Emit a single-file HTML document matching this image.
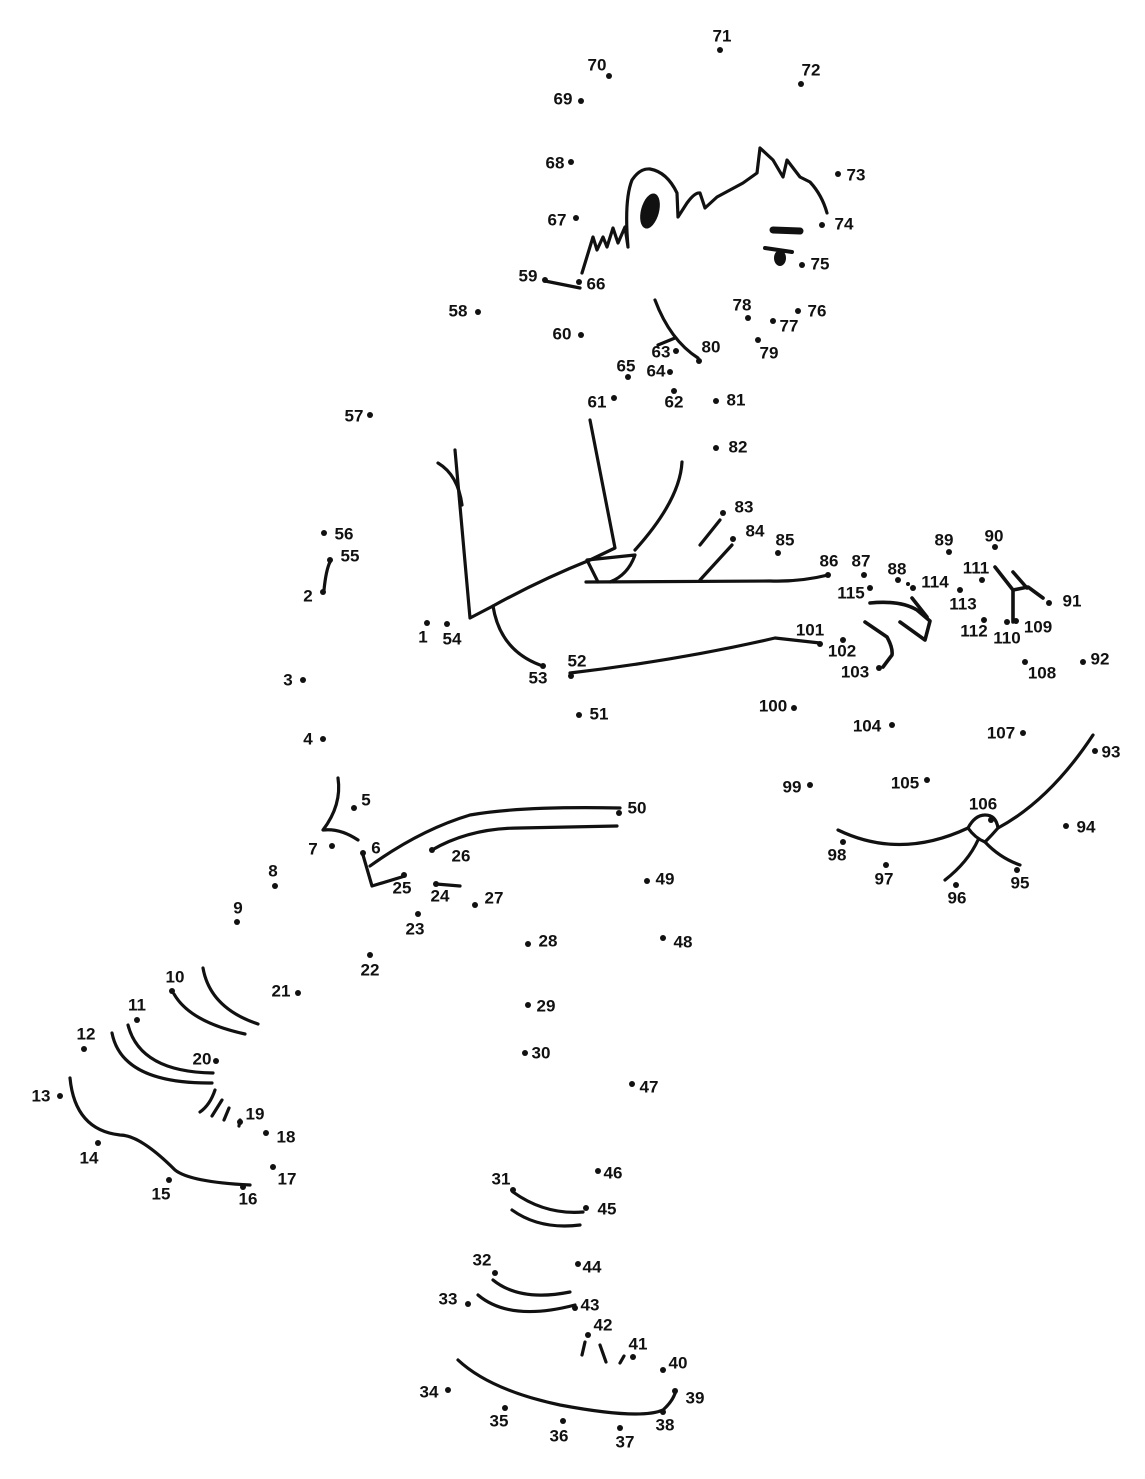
<!DOCTYPE html>
<html><head><meta charset="utf-8"><style>
html,body{margin:0;padding:0;background:#fff;}
svg{display:block;}
text{font-family:"Liberation Sans",sans-serif;font-weight:bold;font-size:17px;fill:#111;}
.s{fill:none;stroke:#111;stroke-width:3.2;stroke-linecap:round;stroke-linejoin:round;}
</style></head><body>
<svg width="1145" height="1479" viewBox="0 0 1145 1479">
<g class="s">
<path d="M324,590 Q326,570 330,562"/>
<path d="M338,778 Q342,805 323,830 Q340,828 358,840"/>
<path d="M363,855 L372,886 L405,876"/>
<path d="M370,866 Q420,830 470,815 Q520,806 620,808"/>
<path d="M432,850 Q470,828 520,828 L617,826"/>
<path d="M436,884 L460,886"/>
<path d="M203,968 Q210,1008 258,1024"/>
<path d="M174,994 Q190,1022 245,1034"/>
<path d="M128,1025 Q140,1072 213,1073"/>
<path d="M112,1033 Q122,1084 212,1083"/>
<path d="M215,1090 Q210,1105 200,1112"/>
<path d="M222,1100 L212,1116"/>
<path d="M229,1108 L224,1120"/>
<path d="M240,1120 L239,1126"/>
<path d="M70,1078 Q75,1130 120,1135 Q140,1135 175,1170 Q190,1182 250,1185"/>
<path d="M513,1192 Q545,1215 583,1212"/>
<path d="M512,1210 Q540,1230 580,1225"/>
<path d="M493,1280 Q520,1302 570,1292"/>
<path d="M478,1295 Q510,1322 575,1305"/>
<path d="M585,1342 L582,1355"/>
<path d="M600,1345 L606,1362"/>
<path d="M624,1356 L620,1363"/>
<path d="M458,1360 Q490,1390 560,1405 Q640,1420 663,1410 Q674,1400 676,1390"/>
<path d="M582,273 L593,237 L597,250 L603,237 L607,247 L613,228 L618,243 L625,227 L628,247 Q624,200 632,180 Q640,168 650,169 Q667,172 677,193 L678,217 L687,203 Q695,192 700,193 L705,208 L717,197 L743,183 L757,173 L760,148 L773,160 L783,177 L787,160 L800,177 L810,182 Q822,195 827,213"/>
<path d="M545,281 L580,288"/>
<path d="M773,230 L800,231" style="stroke-width:7"/>
<path d="M765,248 L792,252" style="stroke-width:4"/>
<path d="M655,300 Q670,340 698,358"/>
<path d="M658,345 L675,338"/>
<path d="M455,450 L470,618 L493,606 Q540,580 590,560 L615,548 L590,420"/>
<path d="M438,463 Q458,475 462,505"/>
<path d="M493,606 Q500,650 540,665"/>
<path d="M570,673 Q680,660 775,638 L820,643"/>
<path d="M586,582 L770,581 Q800,582 828,575"/>
<path d="M598,582 L587,560 L635,555 Q628,575 610,582"/>
<path d="M635,550 Q680,500 682,462"/>
<path d="M700,580 L732,545"/>
<path d="M700,545 L720,520"/>
<path d="M870,603 Q900,600 917,610 L930,621 L925,640 L900,622" style="stroke-width:3.6"/>
<path d="M865,622 L887,637 Q893,648 892,655 L883,667" style="stroke-width:3.6"/>
<path d="M912,598 L927,617" style="stroke-width:3.6"/>
<path d="M995,567 L1013,590 L1013,622" style="stroke-width:3.6"/>
<path d="M1013,590 L1028,587 L1043,598" style="stroke-width:3.6"/>
<path d="M1013,572 L1027,588" style="stroke-width:3.6"/>
<path d="M838,830 Q900,860 968,828 Q975,815 985,815 Q996,815 998,828 Q1050,800 1093,735"/>
<path d="M968,828 Q975,838 985,842 Q992,835 998,828"/>
<path d="M978,840 Q968,862 945,880"/>
<path d="M985,842 Q1000,858 1020,865"/>
</g>
<ellipse cx="650" cy="211" rx="9" ry="18" transform="rotate(15 650 211)" fill="#111"/>
<ellipse cx="780" cy="258" rx="6" ry="8" fill="#111"/>
<g fill="#111">
<circle cx="427" cy="623" r="3"/><circle cx="323" cy="592" r="3"/><circle cx="303" cy="680" r="3"/><circle cx="323" cy="739" r="3"/><circle cx="354" cy="808" r="3"/><circle cx="363" cy="853" r="3"/><circle cx="332" cy="846" r="3"/><circle cx="275" cy="886" r="3"/><circle cx="237" cy="922" r="3"/><circle cx="172" cy="991" r="3"/><circle cx="137" cy="1020" r="3"/><circle cx="84" cy="1049" r="3"/><circle cx="60" cy="1096" r="3"/><circle cx="98" cy="1143" r="3"/><circle cx="169" cy="1180" r="3"/><circle cx="243" cy="1187" r="3"/><circle cx="273" cy="1167" r="3"/><circle cx="266" cy="1133" r="3"/><circle cx="240" cy="1122" r="3"/><circle cx="216" cy="1061" r="3"/><circle cx="298" cy="993" r="3"/><circle cx="370" cy="955" r="3"/><circle cx="418" cy="914" r="3"/><circle cx="436" cy="884" r="3"/><circle cx="404" cy="875" r="3"/><circle cx="432" cy="850" r="3"/><circle cx="475" cy="905" r="3"/><circle cx="528" cy="944" r="3"/><circle cx="528" cy="1005" r="3"/><circle cx="525" cy="1053" r="3"/><circle cx="513" cy="1190" r="3"/><circle cx="495" cy="1273" r="3"/><circle cx="468" cy="1304" r="3"/><circle cx="448" cy="1390" r="3"/><circle cx="505" cy="1408" r="3"/><circle cx="563" cy="1421" r="3"/><circle cx="620" cy="1428" r="3"/><circle cx="663" cy="1412" r="3"/><circle cx="675" cy="1391" r="3"/><circle cx="663" cy="1370" r="3"/><circle cx="633" cy="1357" r="3"/><circle cx="588" cy="1335" r="3"/><circle cx="575" cy="1308" r="3"/><circle cx="578" cy="1264" r="3"/><circle cx="586" cy="1208" r="3"/><circle cx="598" cy="1171" r="3"/><circle cx="632" cy="1084" r="3"/><circle cx="663" cy="938" r="3"/><circle cx="647" cy="881" r="3"/><circle cx="619" cy="813" r="3"/><circle cx="579" cy="715" r="3"/><circle cx="571" cy="676" r="3"/><circle cx="543" cy="666" r="3"/><circle cx="447" cy="624" r="3"/><circle cx="330" cy="560" r="3"/><circle cx="324" cy="533" r="3"/><circle cx="370" cy="415" r="3"/><circle cx="478" cy="312" r="3"/><circle cx="545" cy="280" r="3"/><circle cx="581" cy="335" r="3"/><circle cx="614" cy="398" r="3"/><circle cx="674" cy="391" r="3"/><circle cx="676" cy="351" r="3"/><circle cx="670" cy="372" r="3"/><circle cx="628" cy="377" r="3"/><circle cx="579" cy="282" r="3"/><circle cx="576" cy="218" r="3"/><circle cx="571" cy="162" r="3"/><circle cx="581" cy="101" r="3"/><circle cx="609" cy="76" r="3"/><circle cx="720" cy="50" r="3"/><circle cx="801" cy="84" r="3"/><circle cx="838" cy="174" r="3"/><circle cx="822" cy="225" r="3"/><circle cx="802" cy="265" r="3"/><circle cx="798" cy="311" r="3"/><circle cx="773" cy="321" r="3"/><circle cx="748" cy="318" r="3"/><circle cx="758" cy="340" r="3"/><circle cx="699" cy="361" r="3"/><circle cx="716" cy="401" r="3"/><circle cx="716" cy="448" r="3"/><circle cx="723" cy="513" r="3"/><circle cx="733" cy="539" r="3"/><circle cx="778" cy="553" r="3"/><circle cx="828" cy="575" r="3"/><circle cx="864" cy="575" r="3"/><circle cx="898" cy="580" r="3"/><circle cx="949" cy="552" r="3"/><circle cx="995" cy="547" r="3"/><circle cx="1049" cy="603" r="3"/><circle cx="1083" cy="662" r="3"/><circle cx="1095" cy="751" r="3"/><circle cx="1066" cy="826" r="3"/><circle cx="1017" cy="870" r="3"/><circle cx="956" cy="885" r="3"/><circle cx="886" cy="865" r="3"/><circle cx="843" cy="842" r="3"/><circle cx="810" cy="785" r="3"/><circle cx="794" cy="708" r="3"/><circle cx="820" cy="644" r="3"/><circle cx="843" cy="640" r="3"/><circle cx="879" cy="668" r="3"/><circle cx="892" cy="725" r="3"/><circle cx="927" cy="780" r="3"/><circle cx="991" cy="820" r="3"/><circle cx="1023" cy="733" r="3"/><circle cx="1025" cy="662" r="3"/><circle cx="1016" cy="621" r="3"/><circle cx="1007" cy="622" r="3"/><circle cx="982" cy="580" r="3"/><circle cx="984" cy="620" r="3"/><circle cx="960" cy="590" r="3"/><circle cx="913" cy="588" r="3"/><circle cx="870" cy="588" r="3"/><circle cx="908" cy="584" r="2"/>
</g>
<g text-anchor="middle" dominant-baseline="middle">
<text x="423" y="638">1</text><text x="308" y="597">2</text><text x="288" y="681">3</text><text x="308" y="740">4</text><text x="366" y="801">5</text><text x="376" y="849">6</text><text x="313" y="850">7</text><text x="273" y="872">8</text><text x="238" y="909">9</text><text x="175" y="978">10</text><text x="137" y="1006">11</text><text x="86" y="1035">12</text><text x="41" y="1097">13</text><text x="89" y="1159">14</text><text x="161" y="1195">15</text><text x="248" y="1200">16</text><text x="287" y="1180">17</text><text x="286" y="1138">18</text><text x="255" y="1115">19</text><text x="202" y="1060">20</text><text x="281" y="992">21</text><text x="370" y="971">22</text><text x="415" y="930">23</text><text x="440" y="897">24</text><text x="402" y="889">25</text><text x="461" y="857">26</text><text x="494" y="899">27</text><text x="548" y="942">28</text><text x="546" y="1007">29</text><text x="541" y="1054">30</text><text x="501" y="1180">31</text><text x="482" y="1261">32</text><text x="448" y="1300">33</text><text x="429" y="1393">34</text><text x="499" y="1422">35</text><text x="559" y="1437">36</text><text x="625" y="1443">37</text><text x="665" y="1426">38</text><text x="695" y="1399">39</text><text x="678" y="1364">40</text><text x="638" y="1345">41</text><text x="603" y="1326">42</text><text x="590" y="1306">43</text><text x="592" y="1268">44</text><text x="607" y="1210">45</text><text x="613" y="1174">46</text><text x="649" y="1088">47</text><text x="683" y="943">48</text><text x="665" y="880">49</text><text x="637" y="809">50</text><text x="599" y="715">51</text><text x="577" y="662">52</text><text x="538" y="679">53</text><text x="452" y="640">54</text><text x="350" y="557">55</text><text x="344" y="535">56</text><text x="354" y="417">57</text><text x="458" y="312">58</text><text x="528" y="277">59</text><text x="562" y="335">60</text><text x="597" y="403">61</text><text x="674" y="403">62</text><text x="661" y="353">63</text><text x="656" y="372">64</text><text x="626" y="367">65</text><text x="596" y="285">66</text><text x="557" y="221">67</text><text x="555" y="164">68</text><text x="563" y="100">69</text><text x="597" y="66">70</text><text x="722" y="37">71</text><text x="811" y="71">72</text><text x="856" y="176">73</text><text x="844" y="225">74</text><text x="820" y="265">75</text><text x="817" y="312">76</text><text x="789" y="327">77</text><text x="742" y="306">78</text><text x="769" y="354">79</text><text x="711" y="348">80</text><text x="736" y="401">81</text><text x="738" y="448">82</text><text x="744" y="508">83</text><text x="755" y="532">84</text><text x="785" y="541">85</text><text x="829" y="562">86</text><text x="861" y="562">87</text><text x="897" y="570">88</text><text x="944" y="541">89</text><text x="994" y="537">90</text><text x="1072" y="602">91</text><text x="1100" y="660">92</text><text x="1111" y="753">93</text><text x="1086" y="828">94</text><text x="1020" y="884">95</text><text x="957" y="899">96</text><text x="884" y="880">97</text><text x="837" y="856">98</text><text x="792" y="788">99</text><text x="773" y="707">100</text><text x="810" y="631">101</text><text x="842" y="652">102</text><text x="855" y="673">103</text><text x="867" y="727">104</text><text x="905" y="784">105</text><text x="983" y="805">106</text><text x="1001" y="734">107</text><text x="1042" y="674">108</text><text x="1038" y="628">109</text><text x="1007" y="639">110</text><text x="976" y="569">111</text><text x="974" y="632">112</text><text x="963" y="605">113</text><text x="935" y="583">114</text><text x="851" y="594">115</text>
</g>
</svg>
</body></html>
